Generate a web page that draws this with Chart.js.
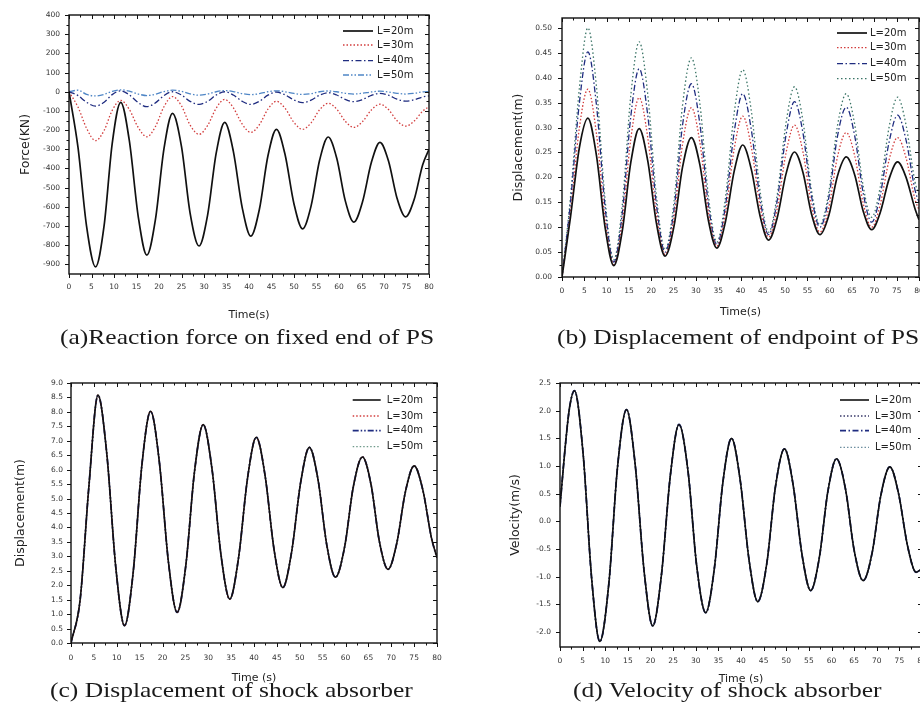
<!DOCTYPE html>
<html><head><meta charset="utf-8">
<script src="https://cdn.jsdelivr.net/npm/chart.js@4.4.0/dist/chart.umd.min.js"></script>
<style>
html,body{margin:0;padding:0;background:#fff;width:920px;height:707px;overflow:hidden;}
.panel{position:absolute;}
.cap{position:absolute;font-family:"Liberation Serif","Times New Roman",serif;font-size:22px;line-height:22px;color:#1a1a1a;white-space:nowrap;transform:scaleX(1.16);transform-origin:0 0;}
</style></head><body>
<div class="panel" style="left:0;top:0;"><canvas id="ca"></canvas></div>
<div class="panel" style="left:460px;top:0;"><canvas id="cb"></canvas></div>
<div class="panel" style="left:0;top:340px;"><canvas id="cc"></canvas></div>
<div class="panel" style="left:460px;top:340px;"><canvas id="cd"></canvas></div>
<div class="cap" style="left:60px;top:326px">(a)Reaction force on fixed end of PS</div>
<div class="cap" style="left:557px;top:326px">(b) Displacement of endpoint of PS</div>
<div class="cap" style="left:50px;top:679px">(c) Displacement of shock absorber</div>
<div class="cap" style="left:573px;top:679px">(d) Velocity of shock absorber</div>
<script>
// ---------- data ----------
const seriesLabels = ['L=20m', 'L=30m', 'L=40m', 'L=50m'];
const timeTicks = [0,5,10,15,20,25,30,35,40,45,50,55,60,65,70,75,80];

// (a) reaction force on fixed end of PS, kN
const timeA = [0,2,3.9,5.9,7.8,9.6,11.5,13.4,15.4,17.3,19.2,21.1,23,25,26.9,28.9,30.8,32.7,34.6,36.5,38.5,40.4,42.3,44.2,46.1,48,50,51.9,53.8,55.7,57.6,59.5,61.4,63.3,65.2,67.2,69.1,71,72.9,74.8,76.7,78.6,80];
const forceL20 = [0,-290,-700,-913,-698,-270,-55,-254,-653,-852,-667,-298,-113,-286,-631,-804,-643,-321,-160,-308,-605,-753,-614,-335,-196,-326,-585,-715,-595,-356,-236,-347,-569,-680,-576,-368,-264,-361,-555,-652,-562,-380,-300];
const forceL30 = [0,-80,-190,-255,-202,-97,-45,-92,-187,-235,-182,-78,-25,-74,-173,-222,-176,-86,-40,-83,-169,-212,-172,-91,-50,-86,-160,-196,-162,-94,-60,-91,-154,-186,-156,-95,-65,-93,-151,-179,-153,-101,-78];
const forceL40 = [0,-20,-55,-75,-55,-15,5,-16,-57,-78,-58,-20,0,-17,-50,-66,-50,-17,0,-17,-50,-66,-50,-18,-2,-16,-43,-57,-44,-18,-5,-17,-40,-52,-41,-19,-8,-18,-39,-49,-42,-27,-22];
const forceL50 = [0,8,-14,-22,-14,2,10,3,-12,-20,-13,1,8,2,-11,-18,-12,0,6,1,-10,-15,-10,0,5,0,-9,-14,-10,0,4,0,-8,-12,-8,-1,3,-1,-8,-12,-8,-1,1];
const forceTicks = [400,300,200,100,0,-100,-200,-300,-400,-500,-600,-700,-800,-900];

// (b) displacement of endpoint of PS, m
const timeB = [0,1.9,3.9,5.8,7.7,9.7,11.6,13.5,15.4,17.3,19.2,21.2,23.1,25.1,27,29,30.9,32.8,34.7,36.6,38.6,40.5,42.4,44.4,46.3,48.2,50.2,52.1,54,55.9,57.8,59.8,61.7,63.7,65.6,67.5,69.4,71.3,73.3,75.2,77.1,79.1,80];
const dispL20 = [0,0.12,0.26,0.319,0.245,0.097,0.023,0.092,0.229,0.298,0.234,0.106,0.042,0.102,0.220,0.280,0.225,0.114,0.058,0.110,0.213,0.265,0.217,0.122,0.074,0.118,0.207,0.251,0.210,0.127,0.085,0.124,0.202,0.241,0.205,0.132,0.095,0.129,0.197,0.231,0.200,0.137,0.115];
const dispL30 = [0,0.13,0.30,0.377,0.289,0.113,0.025,0.109,0.276,0.360,0.281,0.124,0.045,0.119,0.266,0.340,0.270,0.131,0.062,0.127,0.258,0.323,0.262,0.141,0.080,0.136,0.249,0.305,0.251,0.144,0.090,0.140,0.240,0.290,0.243,0.148,0.100,0.145,0.235,0.280,0.239,0.156,0.135];
const dispL40 = [0,0.15,0.35,0.452,0.347,0.136,0.030,0.127,0.321,0.418,0.326,0.142,0.050,0.135,0.304,0.388,0.307,0.146,0.065,0.141,0.292,0.368,0.297,0.156,0.085,0.152,0.285,0.352,0.289,0.163,0.100,0.160,0.281,0.341,0.283,0.168,0.110,0.164,0.271,0.325,0.275,0.175,0.150];
const dispL50 = [0,0.16,0.38,0.500,0.384,0.151,0.035,0.144,0.363,0.472,0.368,0.159,0.055,0.151,0.344,0.440,0.348,0.163,0.070,0.157,0.330,0.416,0.335,0.172,0.090,0.163,0.309,0.382,0.313,0.174,0.105,0.171,0.302,0.368,0.306,0.182,0.120,0.180,0.301,0.361,0.305,0.191,0.165];
const dispTicks = [0,0.05,0.10,0.15,0.20,0.25,0.30,0.35,0.40,0.45,0.50];

// (c) displacement of shock absorber, m (the four curves coincide)
const timeC = [0,2,3.9,5.9,7.8,9.8,11.7,13.6,15.5,17.4,19.3,21.3,23.2,25.1,27,28.9,30.8,32.8,34.7,36.6,38.6,40.5,42.4,44.4,46.3,48.2,50.2,52.1,54,55.9,57.8,59.8,61.7,63.7,65.6,67.4,69.3,71.2,73.1,75,76.9,78.8,80];
const absorberDisp = [0,1.5,5.4,8.58,6.59,2.60,0.60,2.46,6.17,8.02,6.28,2.80,1.06,2.69,5.94,7.56,6.05,3.03,1.52,2.92,5.72,7.12,5.82,3.22,1.92,3.13,5.56,6.77,5.65,3.40,2.28,3.32,5.40,6.44,5.47,3.52,2.55,3.45,5.24,6.13,5.30,3.63,2.95];
const absorberDispTicks = [0,0.5,1,1.5,2,2.5,3,3.5,4,4.5,5,5.5,6,6.5,7,7.5,8,8.5,9];

// (d) velocity of shock absorber, m/s (the four curves coincide)
const timeD = [0,1.1,2.1,3.2,5.1,7,8.8,10.8,12.7,14.7,16.6,18.6,20.5,22.4,24.4,26.3,28.3,30.2,32.2,34.1,36,37.9,39.8,41.8,43.7,45.7,47.6,49.6,51.5,53.5,55.4,57.3,59.2,61.1,63.1,65,67,69,70.9,72.9,74.8,76.8,78.7,80];
const absorberVel = [0.27,1.3,2.05,2.36,1.23,-1.04,-2.17,-1.12,0.97,2.02,1.04,-0.91,-1.89,-0.98,0.84,1.75,0.90,-0.80,-1.65,-0.86,0.71,1.50,0.76,-0.71,-1.45,-0.76,0.62,1.31,0.67,-0.61,-1.25,-0.66,0.54,1.13,0.58,-0.52,-1.07,-0.56,0.47,0.985,0.51,-0.44,-0.92,-0.85];
const velTicks = [2.5,2,1.5,1,0.5,0,-0.5,-1,-1.5,-2];

// ---------- plugins ----------
const frameTicks = {
  id: 'frameTicks',
  afterDatasetsDraw(chart, args, o) {
    const {ctx, chartArea: a, scales: {x, y}} = chart;
    ctx.save();
    ctx.strokeStyle = '#111';
    ctx.lineWidth = 1;
    ctx.beginPath();
    const xs = o.xMajor, ys = o.yMajor;
    const tickX = (v, len) => { const p = Math.round(x.getPixelForValue(v)) + 0.5;
      ctx.moveTo(p, a.bottom); ctx.lineTo(p, a.bottom + len);
      ctx.moveTo(p, a.top); ctx.lineTo(p, a.top + len); };
    const tickY = (v, len) => { const p = Math.round(y.getPixelForValue(v)) + 0.5;
      ctx.moveTo(a.left, p); ctx.lineTo(a.left - len, p);
      ctx.moveTo(a.right, p); ctx.lineTo(a.right - len, p); };
    xs.forEach((v, i) => { tickX(v, 4); if (i < xs.length - 1) tickX((v + xs[i + 1]) / 2, 2.5); });
    ys.forEach((v, i) => { tickY(v, 4); if (o.yMinor && i < ys.length - 1) tickY((v + ys[i + 1]) / 2, 2.5); });
    ctx.stroke();
    ctx.lineWidth = 1.4;
    ctx.strokeRect(a.left, a.top, a.right - a.left, a.bottom - a.top);
    ctx.restore();
  },
  afterDraw(chart, args, o) {
    const ctx = chart.ctx, L = o.legend;
    ctx.save();
    ctx.font = '10px "DejaVu Sans", sans-serif';
    ctx.textBaseline = 'middle';
    ctx.fillStyle = '#222';
    chart.data.datasets.forEach((ds, i) => {
      const yy = L.ys[i];
      ctx.save();
      ctx.strokeStyle = ds.borderColor;
      ctx.lineWidth = ds.borderWidth;
      ctx.setLineDash(ds.borderDash || []);
      ctx.beginPath(); ctx.moveTo(L.x1, yy); ctx.lineTo(L.x2, yy); ctx.stroke();
      ctx.restore();
      ctx.fillText(ds.label, L.xt, yy);
    });
    ctx.restore();
  }
};

function pts(t, v) { return t.map((tt, i) => ({x: tt, y: v[i]})); }

function makeChart(id, c) {
  const cv = document.getElementById(id);
  cv.width = c.w; cv.height = c.h;
  cv.style.width = c.w + 'px'; cv.style.height = c.h + 'px';
  const tickFont = {family: 'DejaVu Sans', size: 7.5};
  const hiddenGrid = len => ({display: true, drawOnChartArea: false, drawTicks: true, tickLength: len,
    color: 'rgba(0,0,0,0)', tickColor: 'rgba(0,0,0,0)'});
  return new Chart(cv, {
    type: 'line',
    data: {datasets: c.datasets},
    options: {
      responsive: false, animation: false, devicePixelRatio: 1,
      layout: {padding: {left: 0, top: c.padTop, right: c.padRight, bottom: 0}},
      elements: {point: {radius: 0}, line: {tension: 0, cubicInterpolationMode: 'monotone', fill: false}},
      plugins: {legend: {display: false}, tooltip: {enabled: false},
        frameTicks: {xMajor: timeTicks, yMajor: c.yTicks, yMinor: c.yMinor, legend: c.legend}},
      scales: {
        x: {type: 'linear', min: 0, max: 80,
          afterFit: s => { s.height = c.xH; },
          afterBuildTicks: s => { s.ticks = timeTicks.map(v => ({value: v})); },
          grid: hiddenGrid(c.xPad), border: {display: false},
          ticks: {padding: 0, font: tickFont, color: '#333', maxRotation: 0, autoSkip: false, callback: v => String(v)},
          title: {display: true, text: c.xTitle, color: '#222', font: {family: 'DejaVu Sans', size: 11}, padding: {top: 0, bottom: c.xTitlePad}}
        },
        y: {type: 'linear', min: c.yMin, max: c.yMax,
          afterFit: s => { s.width = c.yW; },
          afterBuildTicks: s => { s.ticks = c.yTicks.map(v => ({value: v})); },
          grid: hiddenGrid(c.yPad), border: {display: false},
          ticks: {padding: 0, font: tickFont, color: '#333', autoSkip: false, callback: v => v.toFixed(c.dec)},
          title: {display: true, text: c.yTitle, color: '#222', font: {family: 'DejaVu Sans', size: 12.5}, padding: {top: c.yTitlePad, bottom: 0}}
        }
      }
    },
    plugins: [frameTicks]
  });
}

function ds(label, data, color, dash, width, order) {
  return {label, data, borderColor: color, borderDash: dash, borderWidth: width, order};
}
const solid = [], dotted = [1.5, 2], dashDot = [6, 2.5, 1.5, 2.5], dashDotDot = [6, 2, 1.5, 2, 1.5, 2];

makeChart('ca', {w: 460, h: 340, padTop: 15, padRight: 31, yW: 69, xH: 66, yMin: -950, yMax: 400,
  yTicks: forceTicks, yMinor: true, dec: 0, yPad: 9, xPad: 9,
  yTitle: 'Force(KN)', yTitlePad: 17.8, xTitle: 'Time(s)', xTitlePad: 18.4,
  legend: {ys: [31, 45, 60.7, 75], x1: 343, x2: 373, xt: 377},
  datasets: [
    ds(seriesLabels[0], pts(timeA, forceL20), '#111111', solid, 1.7, 0),
    ds(seriesLabels[1], pts(timeA, forceL30), '#d23c3c', dotted, 1.3, 1),
    ds(seriesLabels[2], pts(timeA, forceL40), '#1f2c80', dashDot, 1.3, 2),
    ds(seriesLabels[3], pts(timeA, forceL50), '#4f86c6', dashDotDot, 1.3, 3)
  ]});

makeChart('cb', {w: 464, h: 340, padTop: 18, padRight: 5, yW: 102, xH: 63, yMin: 0, yMax: 0.52,
  yTicks: dispTicks, yMinor: true, dec: 2, yPad: 10, xPad: 9.5,
  yTitle: 'Displacement(m)', yTitlePad: 50.8, xTitle: 'Time(s)', xTitlePad: 21.7,
  legend: {ys: [33, 47.7, 63.7, 78.7], x1: 377, x2: 407, xt: 410},
  datasets: [
    ds(seriesLabels[0], pts(timeB, dispL20), '#111111', solid, 1.7, 0),
    ds(seriesLabels[1], pts(timeB, dispL30), '#d23c3c', dotted, 1.3, 1),
    ds(seriesLabels[2], pts(timeB, dispL40), '#1f2c80', dashDot, 1.3, 2),
    ds(seriesLabels[3], pts(timeB, dispL50), '#3a7466', [1.5, 2.5], 1.3, 3)
  ]});

makeChart('cc', {w: 460, h: 367, padTop: 43, padRight: 23, yW: 71, xH: 64, yMin: 0, yMax: 9,
  yTicks: absorberDispTicks, yMinor: false, dec: 1, yPad: 8, xPad: 11,
  yTitle: 'Displacement(m)', yTitlePad: 12.8, xTitle: 'Time (s)', xTitlePad: 22.4,
  legend: {ys: [60, 76, 90.7, 106.7], x1: 352.7, x2: 380.7, xt: 386.7},
  datasets: [
    ds(seriesLabels[0], pts(timeC, absorberDisp), '#111111', solid, 1.6, 0),
    ds(seriesLabels[1], pts(timeC, absorberDisp), '#d23c3c', dotted, 1.3, 1),
    ds(seriesLabels[2], pts(timeC, absorberDisp), '#1f2c80', dashDotDot, 1.8, 2),
    ds(seriesLabels[3], pts(timeC, absorberDisp), '#6f9a8a', dotted, 1.3, 3)
  ]});

makeChart('cd', {w: 470, h: 367, padTop: 43, padRight: 8, yW: 100, xH: 60, yMin: -2.27, yMax: 2.5,
  yTicks: velTicks, yMinor: false, dec: 1, yPad: 9, xPad: 10,
  yTitle: 'Velocity(m/s)', yTitlePad: 47.8, xTitle: 'Time (s)', xTitlePad: 21.4,
  legend: {ys: [60, 76, 90.7, 107.3], x1: 380, x2: 409, xt: 415},
  datasets: [
    ds(seriesLabels[0], pts(timeD, absorberVel), '#111111', solid, 1.6, 0),
    ds(seriesLabels[1], pts(timeD, absorberVel), '#3a3a6a', dotted, 1.3, 1),
    ds(seriesLabels[2], pts(timeD, absorberVel), '#1f2c80', dashDot, 1.8, 2),
    ds(seriesLabels[3], pts(timeD, absorberVel), '#6f8fa0', dotted, 1.3, 3)
  ]});
</script>
</body></html>
